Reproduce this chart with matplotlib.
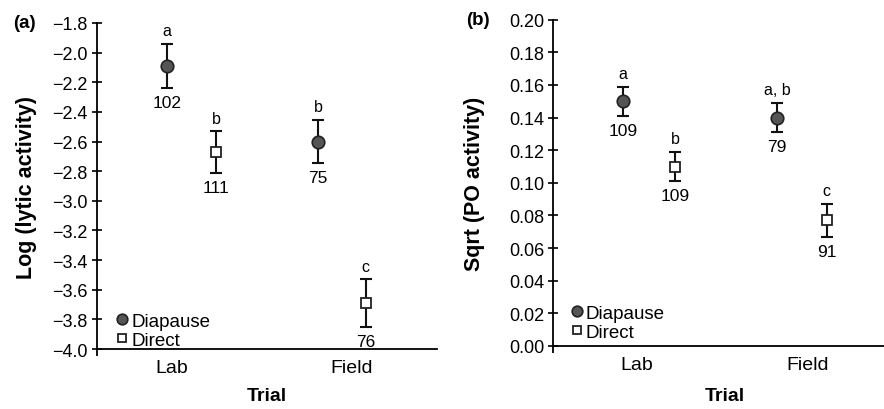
import matplotlib
matplotlib.use("Agg")
from matplotlib import pyplot as plt

plt.rcParams['font.family'] = ['Liberation Sans', 'DejaVu Sans']

# data
trials = ['Lab', 'Field']

# (a) log lytic activity
lytic_diap = [-2.09, -2.60]
lytic_diap_err = [0.15, 0.145]
lytic_diap_n = ['102', '75']
lytic_diap_let = ['a', 'b']
lytic_dir = [-2.67, -3.69]
lytic_dir_err = [0.14, 0.16]
lytic_dir_n = ['111', '76']
lytic_dir_let = ['b', 'c']

# (b) sqrt PO activity
po_diap = [0.150, 0.140]
po_diap_err = [0.009, 0.009]
po_diap_n = ['109', '79']
po_diap_let = ['a', 'a, b']
po_dir = [0.110, 0.077]
po_dir_err = [0.009, 0.010]
po_dir_n = ['109', '91']
po_dir_let = ['b', 'c']

fig = plt.figure(figsize=(8.84, 4.10), dpi=100)
axA = fig.add_axes([0.1097, 0.1463, 0.3846, 0.7952])
axB = fig.add_axes([0.6256, 0.1537, 0.3744, 0.7958])


def panel(ax, xd, xr, yd, ed, nd, ld, yr, er, nr, lr, ylim, yticks, fmt,
          ylabel, tag, tick_x, tag_x, ylab_x, xlab_pos, leg_anchor):
    ax.errorbar(xd, yd, yerr=ed, fmt='none', ecolor='#111111', elinewidth=1.5,
                capsize=4, capthick=1.5, zorder=2)
    ax.errorbar(xr, yr, yerr=er, fmt='none', ecolor='#111111', elinewidth=1.5,
                capsize=4, capthick=1.5, zorder=2)
    ax.plot(xd, yd, 'o', ms=9, mfc='#555555', mec='#222222', mew=1.2,
            ls='none', label='Diapause', zorder=3)
    ax.plot(xr, yr, 's', ms=7.5, mfc='white', mec='#222222', mew=1.3,
            ls='none', label='Direct', zorder=3)
    for xs, ys, es, ns, ls in [(xd, yd, ed, nd, ld), (xr, yr, er, nr, lr)]:
        for x, y, e, n, l in zip(xs, ys, es, ns, ls):
            ax.annotate(l, (x, y + e), xytext=(0, 4), textcoords='offset points',
                        ha='center', va='bottom', fontsize=11.5)
            ax.annotate(n, (x, y - e), xytext=(0, -5), textcoords='offset points',
                        ha='center', va='top', fontsize=12.5)
    ax.set_xlim(0, 1)
    ax.set_ylim(*ylim)
    ax.set_yticks(yticks)
    ax.set_yticklabels([fmt.format(t).replace('-', '\u2212') for t in yticks])
    ax.set_xticks(tick_x)
    ax.set_xticklabels(trials)
    ax.set_xticks([0], minor=True)
    ax.tick_params(axis='x', which='major', length=0, labelsize=14, pad=7)
    ax.tick_params(axis='x', which='minor', length=5, width=1.3, direction='out')
    ax.tick_params(axis='y', direction='inout', length=7, width=1.2,
                   labelsize=13, pad=3)
    ax.spines['top'].set_visible(False)
    ax.spines['right'].set_visible(False)
    ax.spines['left'].set_linewidth(1.3)
    ax.spines['bottom'].set_linewidth(1.3)
    ax.set_xlabel('Trial', fontsize=14, fontweight='bold', va='center')
    ax.xaxis.set_label_coords(*xlab_pos)
    ax.set_ylabel(ylabel, fontsize=15.5, fontweight='bold', va='center')
    ax.yaxis.set_label_coords(ylab_x, 0.5)
    ax.legend(loc='lower left', bbox_to_anchor=leg_anchor, frameon=False,
              fontsize=13.5, handlelength=0.5, handletextpad=0.25,
              labelspacing=0.1, borderaxespad=0.0, borderpad=0.0,
              markerscale=0.85)
    ax.text(tag_x, 1.0, tag, transform=ax.transAxes, fontsize=13.5,
            fontweight='bold', ha='left', va='center')


ytA = [-4.0 + 0.2 * i for i in range(12)]
panel(axA, [0.206, 0.650], [0.350, 0.790],
      lytic_diap, lytic_diap_err, lytic_diap_n, lytic_diap_let,
      lytic_dir, lytic_dir_err, lytic_dir_n, lytic_dir_let,
      (-4.0, -1.8), ytA, '{:.1f}', 'Log (lytic activity)', '(a)', [0.22, 0.75],
      -0.247, -0.206, (0.5, -0.144), (0.06, 0.0))

ytB = [0.02 * i for i in range(11)]
panel(axB, [0.211, 0.677], [0.369, 0.827],
      po_diap, po_diap_err, po_diap_n, po_diap_let,
      po_dir, po_dir_err, po_dir_n, po_dir_let,
      (0.0, 0.20), ytB, '{:.2f}', 'Sqrt (PO activity)', '(b)', [0.254, 0.770],
      -0.263, -0.236, (0.52, -0.153), (0.057, 0.016))

fig.savefig('out.png', dpi=100)
